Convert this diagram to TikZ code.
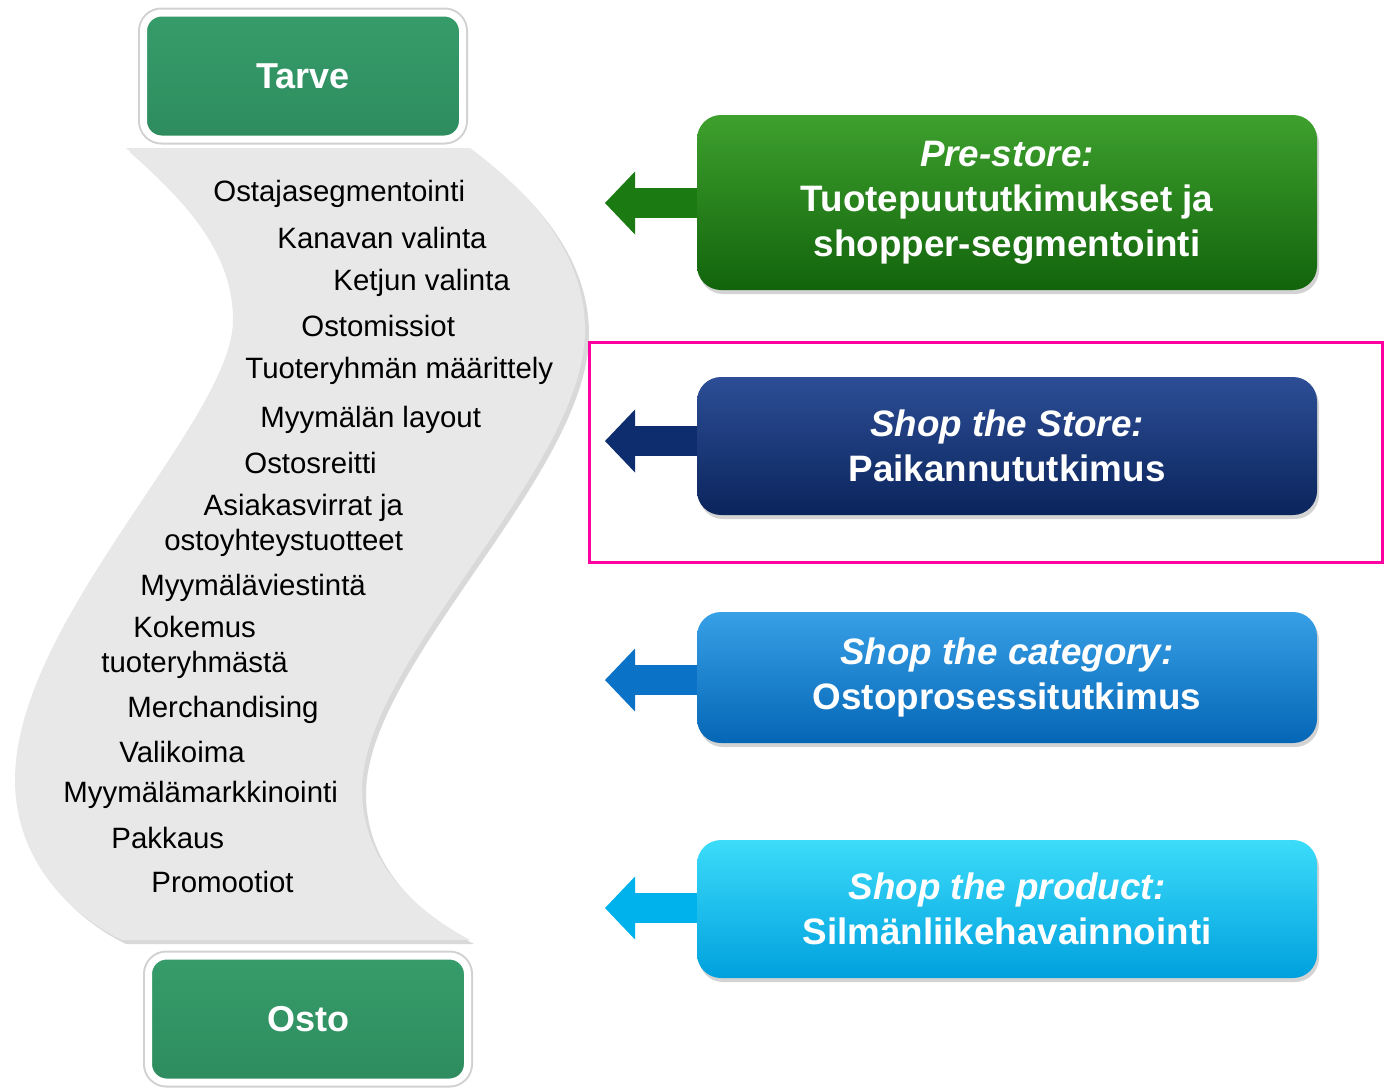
\documentclass[tikz,border=0pt]{standalone}
\usepackage{fontspec}
\setmainfont{Liberation Sans}
\usetikzlibrary{positioning,
        shadows,
        arrows.meta}
\usepackage{xcolor}
\definecolor{endgreen}{RGB}{46,140,94}
\definecolor{endgreenTop}{RGB}{54,156,106}
\definecolor{bandgray}{RGB}{232,232,232}
\definecolor{preTop}{RGB}{62,160,45}
\definecolor{preMid}{RGB}{28,122,18}
\definecolor{preBot}{RGB}{18,100,12}
\definecolor{storeTop}{RGB}{45,78,150}
\definecolor{storeMid}{RGB}{14,45,110}
\definecolor{storeBot}{RGB}{10,36,92}
\definecolor{catTop}{RGB}{55,160,230}
\definecolor{catMid}{RGB}{10,115,200}
\definecolor{catBot}{RGB}{5,102,182}
\definecolor{prodTop}{RGB}{60,220,250}
\definecolor{prodMid}{RGB}{0,178,235}
\definecolor{prodBot}{RGB}{0,160,222}
\definecolor{hilite}{RGB}{255,0,160}

\begin{document}
\begin{tikzpicture}[x=0.5pt,y=-0.5pt,
        endbox/.style={rounded corners=9pt,top color=endgreenTop,bottom color=endgreen,draw=white,line width=3.5pt,
            preaction={draw=black!18,line width=5.5pt},
            minimum width=159.5pt,minimum height=63pt,text=white,font=\fontsize{18}{21}\selectfont\bfseries,
            drop shadow={opacity=0.25,shadow xshift=0pt,shadow yshift=-1.5pt}},
        item/.style={anchor=west,inner sep=0pt,font=\fontsize{14.7}{17.5}\selectfont},
        studybox/.style={rounded corners=12pt,minimum width=310pt,text=white,align=center,
            font=\fontsize{18.4}{22.5}\selectfont\bfseries,
            drop shadow={opacity=0.35,shadow xshift=1pt,shadow yshift=-2pt}},
        pointer/.style={line width=15pt,-{Triangle[length=15pt,width=31.5pt,line width=0pt]}}]
    \useasboundingbox (0,0) rectangle (1384,1088);

    \fill[bandgray,drop shadow={opacity=0.3,shadow xshift=2pt,shadow yshift=-2pt}]
        (126,148) -- (470,148) .. controls (540,200) and (585,260) .. (585,330)
        .. controls (585,470) and (362,660) .. (362,790)
        .. controls (362,855) and (405,905) .. (470,940) -- (122,940)
        .. controls (70,915) and (15,860) .. (15,780)
        .. controls (15,620) and (233,420) .. (233,320)
        .. controls (233,255) and (190,205) .. cycle;

    \node [endbox] (tarve) at (303,76) {Tarve};
    \node [endbox] (osto) at (308,1019) {Osto};

    \node [item] (segm) at (213,194) {Ostajasegmentointi};
    \node [item] (kanava) at (277,238) {Kanavan valinta};
    \node [item] (ketju) at (333,283) {Ketjun valinta};
    \node [item] (missio) at (301,326) {Ostomissiot};
    \node [item] (maar) at (245,371) {Tuoteryhmän määrittely};
    \node [item] (layout) at (260,420) {Myymälän layout};
    \node [item] (reitti) at (244,463) {Ostosreitti};
    \node [item,align=right] (virrat) at (164,525) {Asiakasvirrat ja\\ostoyhteystuotteet};
    \node [item] (viesti) at (140,588) {Myymäläviestintä};
    \node [item,align=center] (kokemus) at (101,647) {Kokemus\\tuoteryhmästä};
    \node [item] (merch) at (127,710) {Merchandising};
    \node [item] (valikoima) at (119,752) {Valikoima};
    \node [item] (markk) at (63,795) {Myymälämarkkinointi};
    \node [item] (pakkaus) at (111,838) {Pakkaus};
    \node [item] (promo) at (151,882) {Promootiot};

    \node [studybox,minimum height=87.5pt,top color=preTop,middle color=preMid,bottom color=preBot] (pre) at (1007,202.5)
        {{\itshape Pre-store:}\\Tuotepuututkimukset ja\\shopper-segmentointi};
    \node [studybox,minimum height=69pt,top color=storeTop,middle color=storeMid,bottom color=storeBot] (store) at (1007,446)
        {{\itshape Shop the Store:}\\Paikannututkimus};
    \node [studybox,minimum height=65.5pt,top color=catTop,middle color=catMid,bottom color=catBot] (cat) at (1007,677.5)
        {{\itshape Shop the category:}\\Ostoprosessitutkimus};
    \node [studybox,minimum height=69pt,top color=prodTop,middle color=prodMid,bottom color=prodBot] (prod) at (1007,909)
        {{\itshape Shop the product:}\\Silmänliikehavainnointi};

    \coordinate (pretip) at (605,203);
    \coordinate (storetip) at (605,441);
    \coordinate (cattip) at (605,680);
    \coordinate (prodtip) at (605,908);

    \draw [pointer,preMid] (pre.west |- pretip) -- (pretip);
    \draw [pointer,storeMid] (store.west |- storetip) -- (storetip);
    \draw [pointer,catMid] (cat.west |- cattip) -- (cattip);
    \draw [pointer,prodMid] (prod.west |- prodtip) -- (prodtip);

    \draw [hilite,line width=1.5pt] (589,342) rectangle (1382,562);
\end{tikzpicture}
\end{document}
